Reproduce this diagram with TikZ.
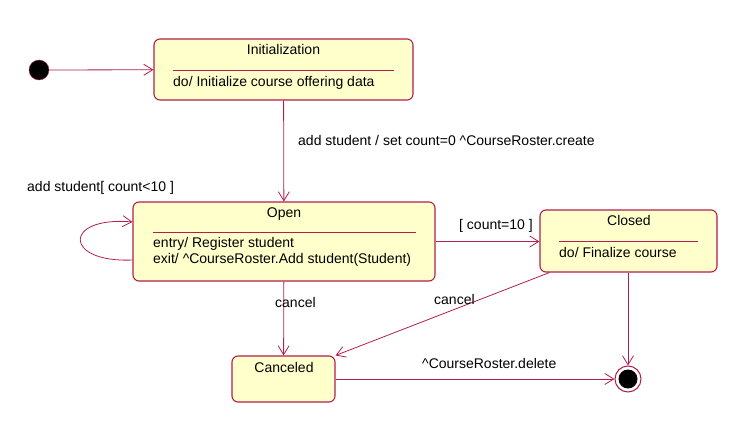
\documentclass[tikz,border=0pt]{standalone}
\usepackage{fontspec}
\setmainfont{Liberation Sans}
\usetikzlibrary{arrows.meta,positioning,calc}
\definecolor{rosered}{RGB}{178,30,78}
\definecolor{statefill}{RGB}{255,255,204}

\begin{document}
\begin{tikzpicture}[x=1pt, y=-1pt,
    every node/.style={font=\fontsize{14}{16}\selectfont, inner sep=0pt},
    state/.style={rectangle, rounded corners=6pt, draw=rosered,
        line width=1.1pt, fill=statefill},
    title/.style={text height=10pt, text depth=3pt},
    body/.style={anchor=west, align=left},
    lbl/.style={anchor=west, text height=10pt, text depth=3pt},
    divider/.style={draw=rosered, line width=0.8pt},
    arr/.style={-{Straight Barb[length=9pt, width=11pt]}, draw=rosered,
        line width=0.8pt},
]

\useasboundingbox (0,0) rectangle (732,428);

% Row 1: start and Initialization
\node[circle, fill=black, draw=rosered, minimum size=20pt] (start) at (39,70) {};
\node[state, minimum width=259pt, minimum height=61pt] (init) at (283.5,69.5) {};
\node[title] (inittitle) at (283.5,51) {Initialization};
\draw[divider] (173,70) -- (394,70);
\node[body] (initbody) at (173,82.5) {do/ Initialize course offering data};

% Row 2: Open and Closed
\node[state, minimum width=302pt, minimum height=79pt] (open) at (284,241.5) {};
\node[title] (opentitle) at (284,214) {Open};
\draw[divider] (153,232) -- (416,232);
\node[body] (openbody) at (153,251.5) {entry/ Register student\\
    exit/ \textasciicircum CourseRoster.Add student(Student)};

\node[state, minimum width=177pt, minimum height=62pt] (closed) at (628.5,241) {};
\node[title] (closedtitle) at (629,222) {Closed};
\draw[divider] (559,241) -- (698,241);
\node[body] (closedbody) at (559,252.5) {do/ Finalize course};

% Row 3: Canceled and final state
\node[state, minimum width=103pt, minimum height=46pt] (canceled) at (283.5,379) {};
\node[title] (canceledtitle) at (284,369) {Canceled};

\node[circle, draw=rosered, line width=1pt, fill=white, minimum size=26pt] (final) at (628,379) {};
\node[circle, fill=black, minimum size=19pt] (finaldot) at (final.center) {};

% Arrows: transitions
\draw[arr] (start) -- (init);
\draw[arr] (init) -- (open);
\draw[arr] ([yshift=-18.5pt]open.west) .. controls (63,263) and (63,216)
    .. ([yshift=19.5pt]open.west);
\draw[arr] (open.east) -- (open.east -| closed.west);
\draw[arr] (open) -- (canceled);
\draw[arr] ([xshift=10pt]closed.south west) -- (canceled.north east);
\draw[arr] (closed.south -| final) -- (final);
\draw[arr] (canceled) -- (final);

% Labels
\node[lbl] (l1) at (298,142) {add student / set count=0 \textasciicircum CourseRoster.create};
\node[lbl] (l2) at (27,188) {add student[ count<10 ]};
\node[lbl] (l3) at (459,226) {[ count=10 ]};
\node[lbl] (l4) at (275,304) {cancel};
\node[lbl] (l5) at (434,301) {cancel};
\node[lbl] (l6) at (422,365) {\textasciicircum CourseRoster.delete};

\end{tikzpicture}
\end{document}
